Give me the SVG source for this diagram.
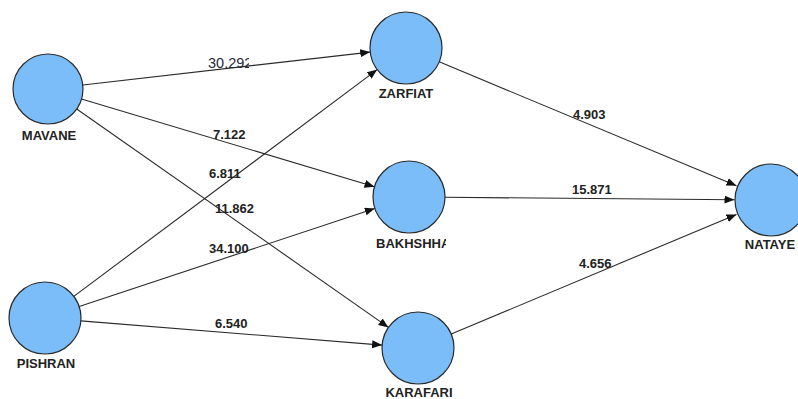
<svg xmlns="http://www.w3.org/2000/svg" width="798" height="399" viewBox="0 0 798 399">
  <defs>
    <style>
      .node { fill: #7bbdf9; stroke: #2a2a2a; stroke-width: 1.2; }
      .lbl { font-family: "Liberation Sans", Arial, sans-serif; font-weight: bold; font-size: 13px; fill: #222; }
      .num { font-family: "Liberation Sans", Arial, sans-serif; font-weight: bold; font-size: 13px; fill: #222; }
      .numr { font-family: "Liberation Sans", Arial, sans-serif; font-weight: normal; font-size: 14.5px; fill: #1e2a3a; }
      .edge { stroke: #2a2a2a; stroke-width: 1.1; fill: none; marker-end: url(#arrow); }
    </style>
    <marker id="arrow" markerUnits="userSpaceOnUse" markerWidth="11" markerHeight="9" refX="10" refY="4" orient="auto">
      <path d="M0,0 L10,4 L0,8 Z" fill="#111"/>
    </marker>
    <clipPath id="clipNum"><rect x="200" y="50" width="49" height="25"/></clipPath>
    <clipPath id="clipBak"><rect x="360" y="232" width="86" height="22"/></clipPath>
  </defs>
  <rect width="798" height="399" fill="#ffffff"/>

  <g id="connectors">
    <line class="edge" x1="82.8" y1="85" x2="370.2" y2="52.1"/>
    <line class="edge" x1="81.5" y1="99" x2="374.5" y2="186.7"/>
    <line class="edge" x1="76.7" y1="109" x2="388.5" y2="327.4"/>
    <line class="edge" x1="73.8" y1="296.4" x2="377.2" y2="69.6"/>
    <line class="edge" x1="79.2" y1="306.6" x2="374.8" y2="208.4"/>
    <line class="edge" x1="80.9" y1="320.9" x2="382.1" y2="345.1"/>
    <line class="edge" x1="439.2" y1="61.8" x2="736.5" y2="185.7"/>
    <line class="edge" x1="445" y1="197.3" x2="734.5" y2="199.7"/>
    <line class="edge" x1="451.2" y1="334.1" x2="736.5" y2="214.4"/>

    <g clip-path="url(#clipNum)"><text class="numr" x="208" y="68">30.292</text></g>
    <text class="num" x="213" y="139">7.122</text>
    <text class="num" x="209" y="178">6.811</text>
    <text class="num" x="215" y="213">11.862</text>
    <text class="num" x="209" y="253">34.100</text>
    <text class="num" x="215" y="328">6.540</text>
    <text class="num" x="573" y="119">4.903</text>
    <text class="num" x="572" y="194">15.871</text>
    <text class="num" x="579" y="268">4.656</text>
  </g>

  <g id="MAVANE">
    <circle class="node" cx="48" cy="89" r="35"/>
    <text class="lbl" x="49" y="140" text-anchor="middle">MAVANE</text>
  </g>
  <g id="PISHRAN">
    <circle class="node" cx="45" cy="318" r="36"/>
    <text class="lbl" x="46" y="368" text-anchor="middle">PISHRAN</text>
  </g>
  <g id="ZARFIAT">
    <circle class="node" cx="406" cy="48" r="36"/>
    <text class="lbl" x="406" y="98" text-anchor="middle">ZARFIAT</text>
  </g>
  <g id="BAKHSHHA">
    <circle class="node" cx="409" cy="197" r="36"/>
    <g clip-path="url(#clipBak)"><text class="lbl" x="376" y="248">BAKHSHHA</text></g>
  </g>
  <g id="KARAFARI">
    <circle class="node" cx="418" cy="348" r="36"/>
    <text class="lbl" x="419" y="397" text-anchor="middle">KARAFARI</text>
  </g>
  <g id="NATAYE">
    <circle class="node" cx="771" cy="200" r="36"/>
    <text class="lbl" x="770" y="249" text-anchor="middle">NATAYE</text>
  </g>
</svg>
